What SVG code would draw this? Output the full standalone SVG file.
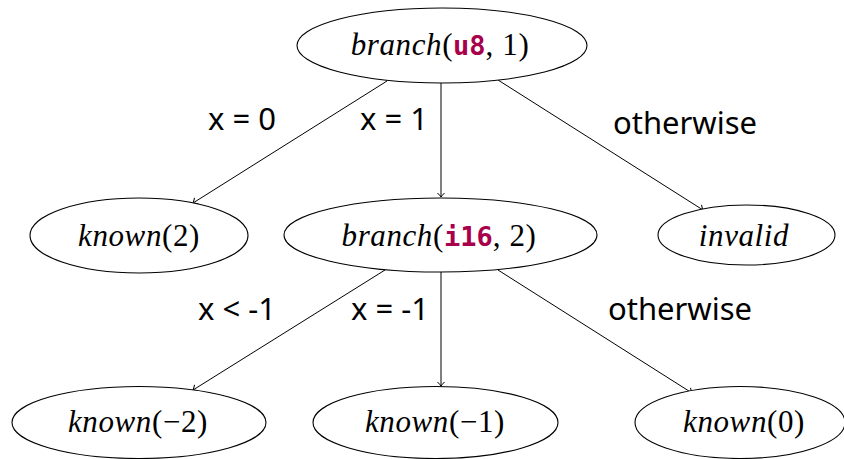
<svg xmlns="http://www.w3.org/2000/svg" width="844" height="459" viewBox="0 0 844 459">
<defs>
<style>
.node ellipse{fill:#fff;stroke:#000;stroke-width:1.1}
.m{font-family:"Liberation Serif",serif;font-size:31px;fill:#000;text-anchor:middle;letter-spacing:0.6px}
.i{font-style:italic}
.k{font-family:"DejaVu Sans Mono","Liberation Mono",monospace;font-weight:bold;fill:#a8004a;font-size:27px;letter-spacing:0}
.lbl{font-family:"Noto Sans",sans-serif;font-size:31px;fill:#000;text-anchor:middle}
.edge{stroke:#000;stroke-width:1;fill:none;marker-end:url(#arr)}
</style>
<marker id="arr" viewBox="-6 -5 8 10" markerWidth="8" markerHeight="10" refX="0" refY="0" orient="auto" markerUnits="userSpaceOnUse">
<path d="M-4,-3.5 Q-1.5,-1 0,0 Q-1.5,1 -4,3.5" fill="none" stroke="#000" stroke-width="1"/>
</marker>
</defs>
<g id="connectors">
<line class="edge" x1="387" y1="81" x2="193" y2="203"/>
<line class="edge" x1="441" y1="83" x2="441" y2="197"/>
<line class="edge" x1="498" y1="80" x2="703" y2="210"/>
<line class="edge" x1="385" y1="270" x2="193" y2="390"/>
<line class="edge" x1="441" y1="272" x2="441" y2="386"/>
<line class="edge" x1="498" y1="270" x2="692" y2="393"/>
<text class="lbl" x="242" y="130">x = 0</text>
<text class="lbl" x="394" y="130">x = 1</text>
<text class="lbl" x="685" y="134">otherwise</text>
<text class="lbl" x="237" y="320">x &lt; -1</text>
<text class="lbl" x="390" y="320">x = -1</text>
<text class="lbl" x="680" y="320">otherwise</text>
</g>
<g id="n-root" class="node">
<ellipse cx="442" cy="45.5" rx="145" ry="37.5"/>
<text class="m" x="440" y="55"><tspan class="i">branch</tspan>(<tspan class="k">u8</tspan>, 1)</text>
</g>
<g id="n-known2" class="node">
<ellipse cx="139" cy="235.5" rx="109" ry="37.5"/>
<text class="m" x="139" y="246"><tspan class="i">known</tspan>(2)</text>
</g>
<g id="n-branch2" class="node">
<ellipse cx="440.5" cy="235" rx="156.5" ry="37"/>
<text class="m" x="439" y="246"><tspan class="i">branch</tspan>(<tspan class="k">i16</tspan>, 2)</text>
</g>
<g id="n-invalid" class="node">
<ellipse cx="746.5" cy="235" rx="88.5" ry="30"/>
<text class="m i" x="744" y="246">invalid</text>
</g>
<g id="n-knownm2" class="node">
<ellipse cx="139" cy="422.5" rx="127" ry="36"/>
<text class="m" x="138" y="432"><tspan class="i">known</tspan>(−2)</text>
</g>
<g id="n-knownm1" class="node">
<ellipse cx="435.5" cy="422.5" rx="122.5" ry="36"/>
<text class="m" x="435" y="432"><tspan class="i">known</tspan>(−1)</text>
</g>
<g id="n-known0" class="node">
<ellipse cx="740" cy="422.5" rx="105" ry="36"/>
<text class="m" x="744" y="432"><tspan class="i">known</tspan>(0)</text>
</g>
</svg>
